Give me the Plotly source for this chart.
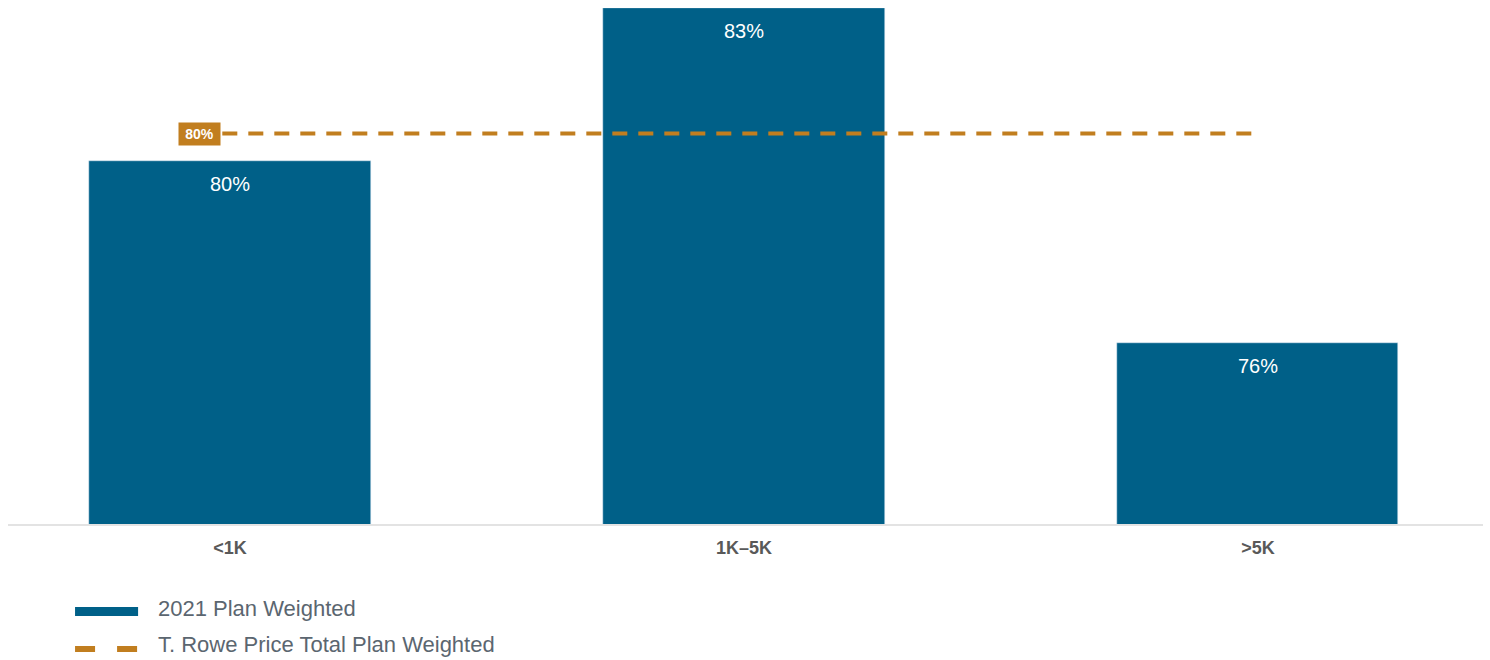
import plotly.graph_objects as go

categories = ["<1K", "1K–5K", ">5K"]
bar_values = [79.8, 83.1, 75.9]
bar_labels = ["80%", "83%", "76%"]
total_value = 80.4
total_label = "80%"
series_names = ["2021 Plan Weighted", "T. Rowe Price Total Plan Weighted"]

BLUE = "#006088"
ORANGE = "#C17E1F"
FONT = "Liberation Sans, Arial"
xpos = list(range(len(categories)))

fig = go.Figure()
fig.add_trace(go.Bar(
    x=xpos, y=bar_values, width=0.547, marker_color=BLUE,
    name=series_names[0], showlegend=False, hoverinfo="x+y",
))
for xi, v, lab in zip(xpos, bar_values, bar_labels):
    fig.add_annotation(x=xi, y=v, xref="x", yref="y", text=lab, showarrow=False,
                       yanchor="middle", yshift=-23,
                       font=dict(color="white", size=20, family=FONT))
fig.add_trace(go.Scatter(
    x=[xpos[0] - 0.015, xpos[-1]], y=[total_value, total_value], mode="lines",
    line=dict(color=ORANGE, width=4, dash="15px,11px"),
    name=series_names[1], showlegend=False,
))
fig.add_annotation(
    x=xpos[0] - 0.015, y=total_value, xref="x", yref="y", text="<b>" + total_label + "</b>",
    showarrow=False, xanchor="right", xshift=-1, bgcolor=ORANGE, width=35,
    font=dict(color="white", size=14, family=FONT),
    borderpad=3,
)

# custom legend
fig.add_shape(type="rect", xref="paper", yref="paper", x0=(75-8)/1474, x1=(138-8)/1474,
              y0=-(607-524)/516, y1=-(616-524)/516, fillcolor=BLUE, line_width=0)
for x0 in (75, 117):
    fig.add_shape(type="rect", xref="paper", yref="paper", x0=(x0-8)/1474, x1=(x0+20-8)/1474,
                  y0=-(646-524)/516, y1=-(652-524)/516, fillcolor=ORANGE, line_width=0)
for i, name in enumerate(series_names):
    yy = 608 if i == 0 else 644
    fig.add_annotation(x=(156-8)/1474, y=-(yy-524)/516, xref="paper", yref="paper",
                       text=name, showarrow=False, xanchor="left", yanchor="middle",
                       font=dict(size=22, color="#5B6670", family=FONT))

fig.update_layout(
    width=1490, height=660, plot_bgcolor="white", paper_bgcolor="white",
    margin=dict(l=8, r=7, t=8, b=136), bargap=0,
    xaxis=dict(range=[-0.432, 2.438], tickvals=xpos, ticktext=["<b>%s</b>" % c for c in categories],
               tickfont=dict(size=18, color="#595959", family=FONT),
               showgrid=False, zeroline=False, showline=True, linecolor="#E3E3E3", linewidth=2,
               ticks="outside", ticklen=6, tickcolor="rgba(0,0,0,0)"),
    yaxis=dict(range=[72, 83.1], visible=False, showgrid=False, zeroline=False),
)
fig.write_html("out.html", config={"displayModeBar": False},
               post_script="document.body.style.margin='0';document.body.style.overflow='hidden';")
